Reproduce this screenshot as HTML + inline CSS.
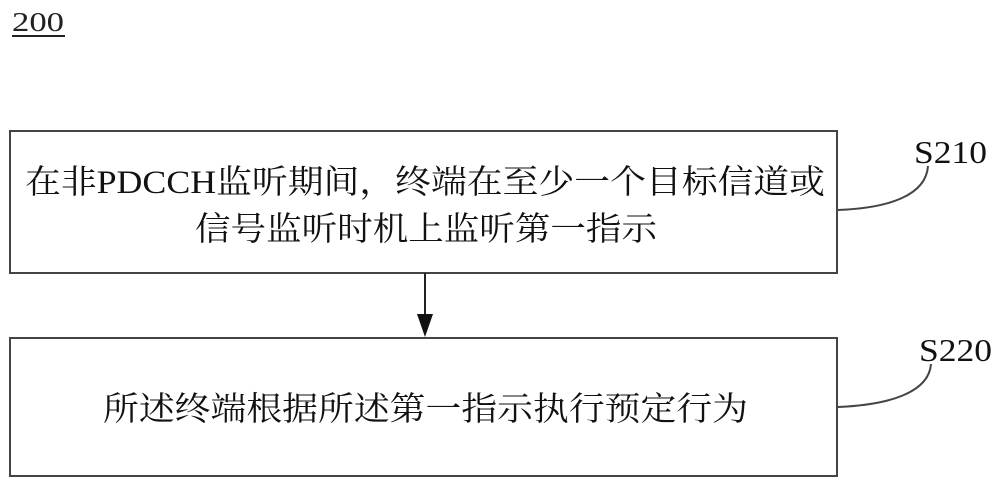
<!DOCTYPE html>
<html><head><meta charset="utf-8"><style>
body{margin:0;background:#fff;}
svg{display:block}
</style></head><body>
<svg width="1000" height="486" xmlns="http://www.w3.org/2000/svg" font-family="'Liberation Serif','Noto Serif CJK SC',serif">
<text x="12" y="31" font-size="27" fill="#222" textLength="52" lengthAdjust="spacingAndGlyphs">200</text>
<line x1="12" y1="36" x2="65" y2="36" stroke="#222" stroke-width="2"/>
<rect x="10" y="131" width="827" height="142" fill="none" stroke="#444" stroke-width="2"/>
<text x="25" y="193" font-size="33" fill="#111" textLength="800" lengthAdjust="spacingAndGlyphs">在非PDCCH监听期间，终端在至少一个目标信道或</text>
<text x="195" y="240" font-size="33" fill="#111" textLength="462" lengthAdjust="spacingAndGlyphs">信号监听时机上监听第一指示</text>
<line x1="425" y1="273" x2="425" y2="316" stroke="#222" stroke-width="2"/>
<polygon points="417,314 433,314 425,337" fill="#111"/>
<rect x="10" y="338" width="827" height="138" fill="none" stroke="#444" stroke-width="2"/>
<text x="103" y="420" font-size="33" fill="#111" textLength="645" lengthAdjust="spacingAndGlyphs">所述终端根据所述第一指示执行预定行为</text>
<path d="M838,210 C890,208 926,195 928,166" fill="none" stroke="#444" stroke-width="2"/>
<path d="M838,407 C890,405 929,392 931,364" fill="none" stroke="#444" stroke-width="2"/>
<text x="914" y="163" font-size="32" fill="#111" textLength="73" lengthAdjust="spacingAndGlyphs">S210</text>
<text x="919" y="361" font-size="32" fill="#111" textLength="73" lengthAdjust="spacingAndGlyphs">S220</text>
</svg>
</body></html>
